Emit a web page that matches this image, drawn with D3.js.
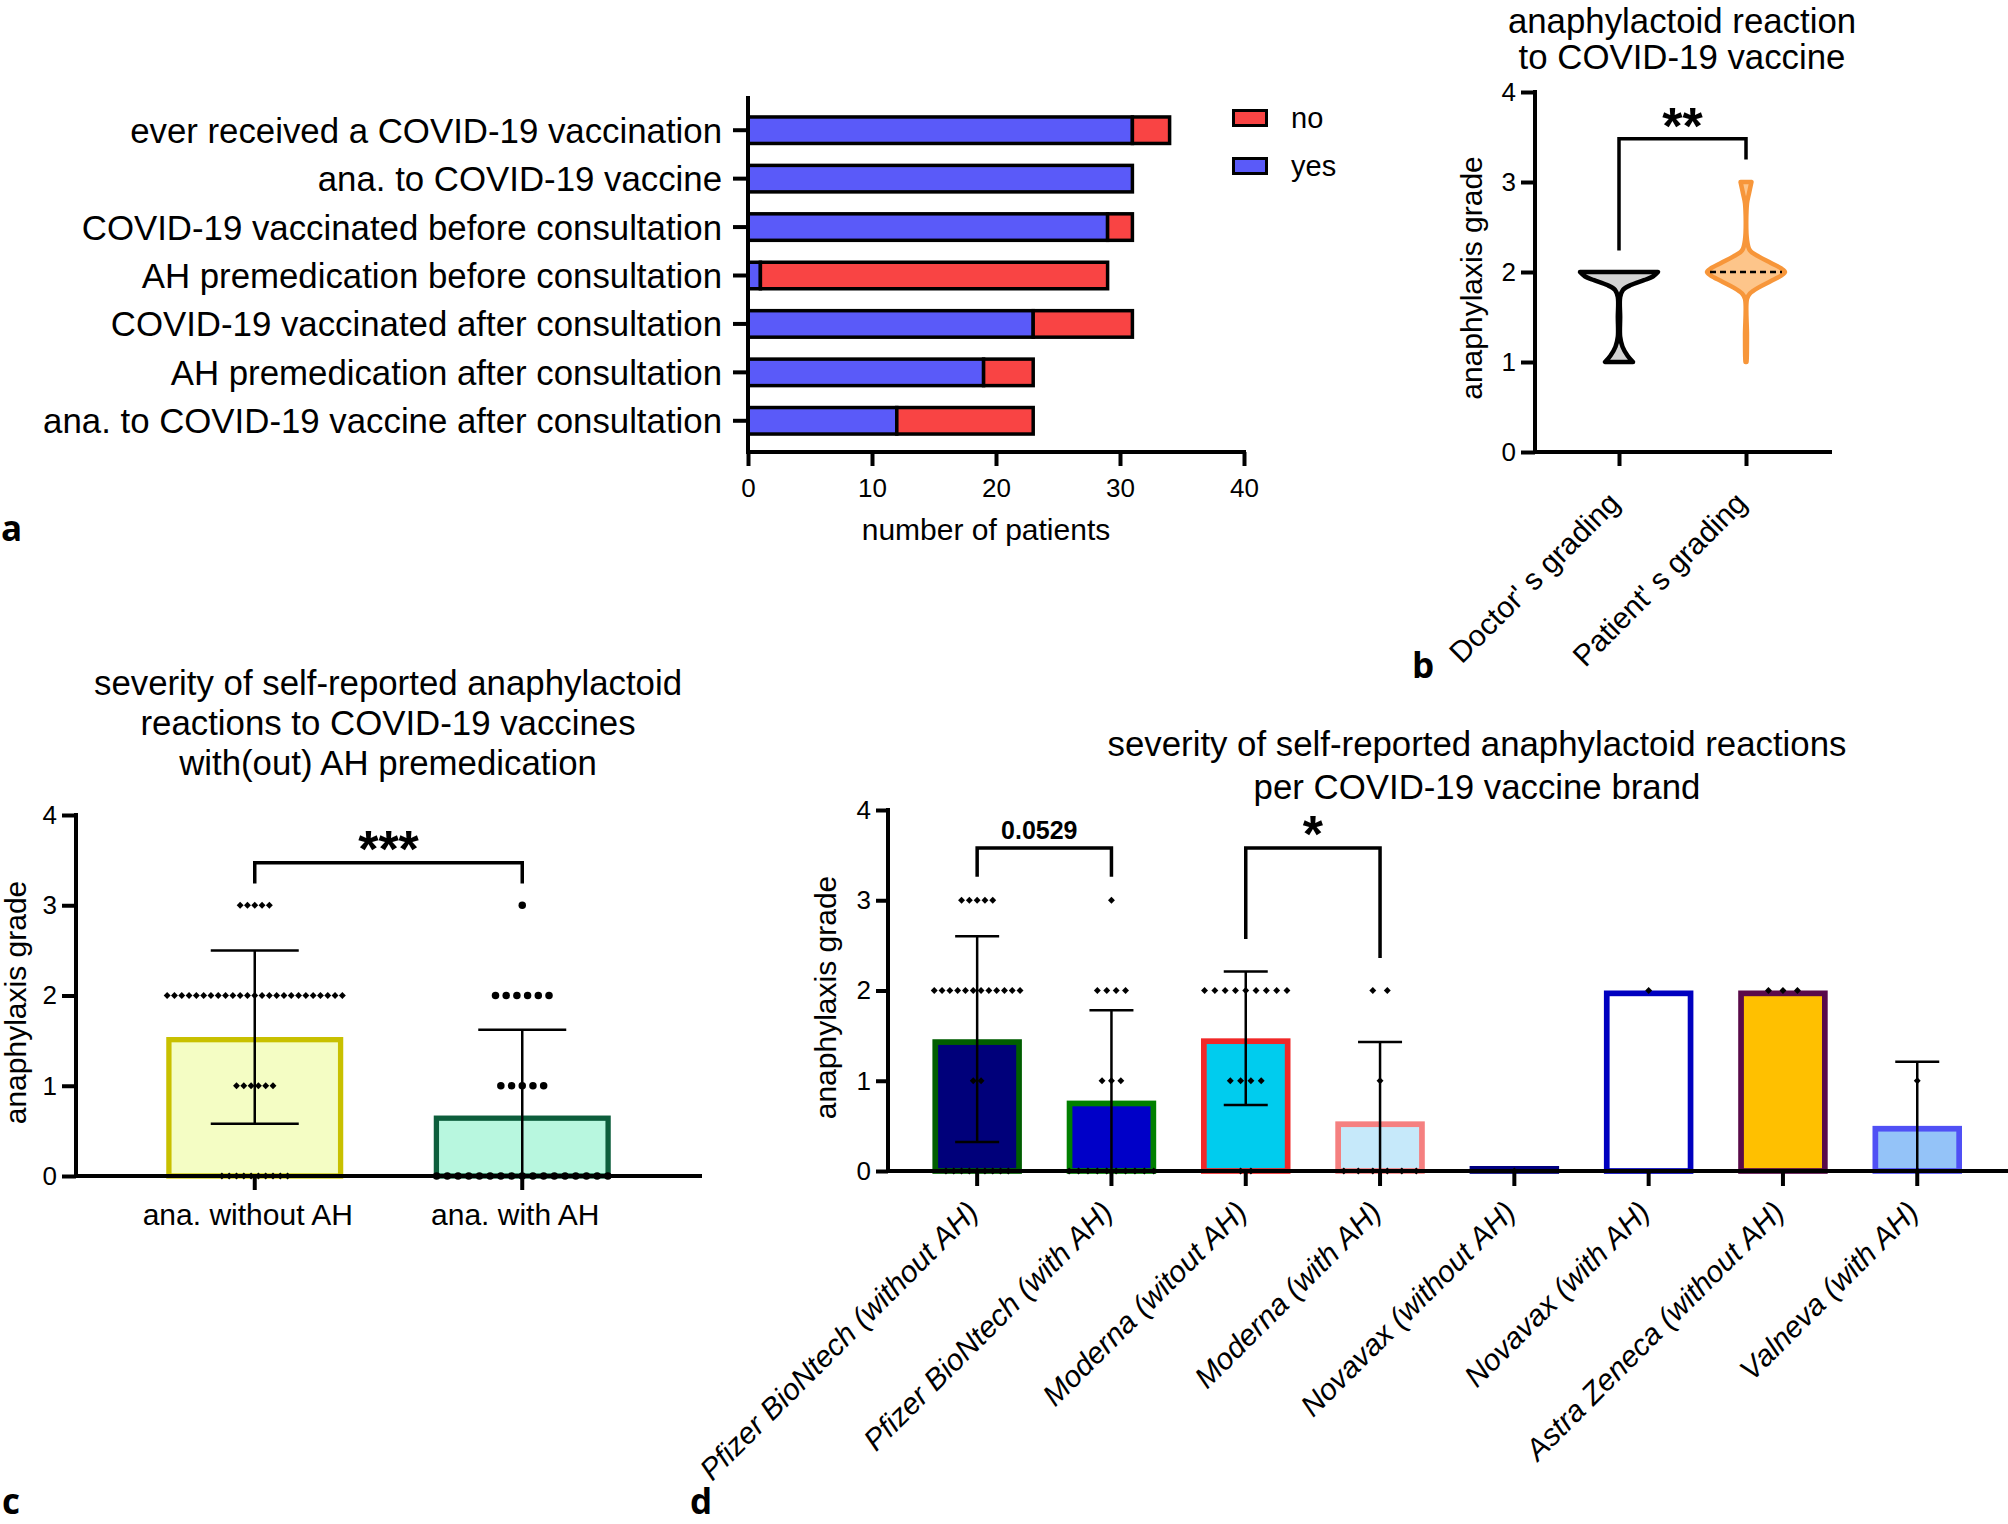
<!DOCTYPE html>
<html><head><meta charset="utf-8">
<script src="https://cdn.jsdelivr.net/npm/d3@7"></script>
<style>body{margin:0;background:#fff} svg{display:block}</style>
</head><body>
<svg id="chart" width="2008" height="1524"></svg>
<script>
// ================= DATA =================
// Panel a
const aCategories = ["ever received a COVID-19 vaccination", "ana. to COVID-19 vaccine",
  "COVID-19 vaccinated before consultation", "AH premedication before consultation",
  "COVID-19 vaccinated after consultation", "AH premedication after consultation",
  "ana. to COVID-19 vaccine after consultation"];
const aYes = [31, 31, 29, 1, 23, 19, 12];
const aNo  = [3, 0, 2, 28, 8, 4, 11];
const aTicks = [0, 10, 20, 30, 40];
const aLegend = ["no", "yes"];
const aXTitle = "number of patients";

// Panel b (violin outlines: grade vs. relative density)
const bTitle = ["anaphylactoid reaction", "to COVID-19 vaccine"];
const bCategories = ["Doctor' s grading", "Patient' s grading"];
const bDoctorGrade   = [1.0, 1.07, 1.17, 1.28, 1.5, 1.72, 1.8, 1.855, 1.91, 1.95, 2.0];
const bDoctorDensity = [0.36, 0.22, 0.09, 0.03, 0.03, 0.03, 0.1, 0.3, 0.64, 0.87, 1.0];
const bPatientGrade   = [1.0, 1.05, 1.3, 1.7, 1.76, 1.83, 1.9, 1.96, 2.0, 2.04, 2.1, 2.17, 2.24, 2.36, 2.76, 2.87, 3.0];
const bPatientDensity = [0.013, 0.02, 0.025, 0.025, 0.1, 0.33, 0.64, 0.9, 1.0, 0.9, 0.64, 0.33, 0.1, 0.025, 0.025, 0.075, 0.14];
const bMedian = [2, 2];
const gradeTicks = [0, 1, 2, 3, 4];
const yTitle = "anaphylaxis grade";

// Panel c
const cTitle = ["severity of self-reported anaphylactoid", "reactions to COVID-19 vaccines", "with(out) AH premedication"];
const cCategories = ["ana. without AH", "ana. with AH"];
const cMean = [1.54, 0.67];
const cSD   = [0.96, 0.95];
const grades = [0, 1, 2, 3];
const cCounts = [[10, 6, 25, 5], [17, 5, 6, 1]];   // patients per grade 0..3

// Panel d
const dTitle = ["severity of self-reported anaphylactoid reactions", "per COVID-19 vaccine brand"];
const dCategories = ["Pfizer BioNtech (without AH)", "Pfizer BioNtech (with AH)", "Moderna (witout AH)",
  "Moderna (with AH)", "Novavax (without AH)", "Novavax (with AH)", "Astra Zeneca (without AH)", "Valneva (with AH)"];
const dMean = [1.46, 0.78, 1.47, 0.55, 0, 2, 2, 0.5];
const dSD   = [1.14, 1.0, 0.74, 0.88, 0, 0, 0, 0.71];
const dCounts = [[9, 2, 12, 5], [10, 3, 4, 1], [2, 4, 9, 0], [6, 1, 2, 0],
  [1, 0, 0, 0], [0, 0, 1, 0], [0, 0, 3, 0], [1, 1, 0, 0]];

// Significance brackets
const bBracket = {from: 0, to: 1, top: 3.48, leftEnd: 2.24, rightEnd: 3.25, label: "**"};
const cBracket = {from: 0, to: 1, top: 3.47, leftEnd: 3.24, rightEnd: 3.24, label: "***"};
const dBrackets = [
  {from: 0, to: 1, top: 3.58, leftEnd: 3.26, rightEnd: 3.26, label: "0.0529"},
  {from: 2, to: 3, top: 3.58, leftEnd: 2.57, rightEnd: 2.36, label: "*"}
];

// ================= STYLE =================
const FONT = "'Liberation Sans', Arial, Helvetica, sans-serif";
const LETTER_FONT = "'Open Sans', 'Noto Sans', sans-serif";
const AXW = 4;
const BIG = 34.8;
const aColors = {yes: "#5A5AF9", no: "#F94444"};
const cFill = ["#F4FDC4", "#B8F7DF"], cStroke = ["#C8C000", "#0D5E3C"];
const cMarker = ["diamond", "circle"], cSpacing = [7.3, 10.7];
const dFill   = ["#00007A", "#0000C8", "#00CCEE", "#C6E9FA", "#000080", "#FFFFFF", "#FFC000", "#94C3F8"];
const dStroke = ["#005E00", "#008000", "#F02828", "#F58080", "#000080", "#0000C0", "#5A0A4A", "#5050F5"];
const dSpacing = [7.8, 9.4, 10.3, 14.5, 14.5, 14.5, 14.5, 14.5];

const svg = d3.select("#chart");

function txt(g, x, y, s, size, opts = {}) {
  return g.append("text").attr("x", x).attr("y", y).text(s)
    .attr("font-family", opts.family || FONT).attr("font-size", size)
    .attr("font-weight", opts.weight || "normal").attr("font-style", opts.style || "normal")
    .attr("text-anchor", opts.anchor || "middle").attr("fill", "#000");
}
function line(g, x1, y1, x2, y2, w) {
  return g.append("line").attr("x1", x1).attr("y1", y1).attr("x2", x2).attr("y2", y2)
    .attr("stroke", "#000").attr("stroke-width", w);
}
function styleAxis(g, fs) {
  g.selectAll("path.domain").remove();
  g.selectAll(".tick line").attr("stroke", "#000").attr("stroke-width", AXW);
  g.selectAll(".tick text").attr("fill", "#000").attr("font-family", FONT).attr("font-size", fs);
}
function bracket(g, x1, x2, yScale, b, labelSize, labelOpts, labelOffset) {
  g.append("path").attr("fill", "none").attr("stroke", "#000").attr("stroke-width", 3.5)
    .attr("d", `M${x1},${yScale(b.leftEnd)}V${yScale(b.top)}H${x2}V${yScale(b.rightEnd)}`);
  txt(g, (x1 + x2) / 2 + (labelOpts.dx || 0), yScale(b.top) + labelOffset, b.label, labelSize, labelOpts);
}
function dotsFor(cx, yScale, counts, spacing, marker) {
  const pts = [];
  counts.forEach((n, gi) => {
    for (let i = 0; i < n; i++) pts.push({x: cx + (i - (n - 1) / 2) * spacing, y: yScale(grades[gi]), marker});
  });
  return pts;
}
function drawDots(g, pts) {
  const dia = d3.symbol(d3.symbolSquare, 24)();
  const cir = d3.symbol(d3.symbolCircle, 44)();
  g.selectAll(null).data(pts).join("path")
    .attr("d", p => p.marker === "circle" ? cir : dia)
    .attr("transform", p => `translate(${p.x},${p.y})` + (p.marker === "circle" ? "" : " rotate(45)"))
    .attr("fill", "#000");
}
function errorBars(g, cx, yScale, mean, sd, half) {
  if (!(sd > 0)) return;
  const up = mean + sd, lo = mean - sd;
  const yLo = lo > 0 ? yScale(lo) : yScale(0);
  line(g, cx, yLo, cx, yScale(up), 2.5);
  line(g, cx - half, yScale(up), cx + half, yScale(up), 2.5);
  if (lo > 0) line(g, cx - half, yScale(lo), cx + half, yScale(lo), 2.5);
}

// ================= PANEL A =================
(function () {
  const g = svg.append("g");
  const x = d3.scaleLinear().domain([0, 40]).range([748, 1244]);
  const y = d3.scaleBand().domain(aCategories).range([106, 445]);
  const rows = aCategories.map((c, i) => ({c, yes: aYes[i], no: aNo[i]}));
  const stack = d3.stack().keys(["yes", "no"])(rows);
  const bh = 26.5;
  g.selectAll("g.layer").data(stack).join("g").attr("fill", d => aColors[d.key])
    .selectAll("rect").data(d => d.filter(p => p[1] > p[0])).join("rect")
    .attr("x", p => x(p[0])).attr("width", p => x(p[1]) - x(p[0]))
    .attr("y", p => y(p.data.c) + y.bandwidth() / 2 - bh / 2).attr("height", bh)
    .attr("stroke", "#000").attr("stroke-width", 3.5);

  const xa = g.append("g").attr("transform", "translate(0,452)")
    .call(d3.axisBottom(x).tickValues(aTicks).tickSize(14).tickPadding(13));
  styleAxis(xa, 26);
  const ya = g.append("g").attr("transform", "translate(748,0)")
    .call(d3.axisLeft(y).tickSize(15).tickPadding(11));
  styleAxis(ya, BIG);
  ya.selectAll(".tick text").attr("dy", "0.36em");
  line(g, 748, 96, 748, 454, AXW);
  line(g, 746, 452, 1246, 452, AXW);
  txt(g, (x(0) + x(40)) / 2 - 10, 540, aXTitle, 30);

  // legend
  const legY = [118, 166];
  aLegend.forEach((k, i) => {
    g.append("rect").attr("x", 1233.5).attr("y", legY[i] - 7.5).attr("width", 33).attr("height", 15)
      .attr("fill", aColors[k]).attr("stroke", "#000").attr("stroke-width", 3);
    txt(g, 1291, legY[i] + 10, k, 29, {anchor: "start"});
  });
  txt(g, 1, 541, "a", 35, {anchor: "start", weight: "bold", family: LETTER_FONT});
})();

// ================= PANEL B =================
(function () {
  const g = svg.append("g");
  const y = d3.scaleLinear().domain([0, 4]).range([452, 92]);
  const x = d3.scalePoint().domain(bCategories).range([1619, 1746]);
  const HW = 39;
  const area = d3.area().curve(d3.curveCatmullRom);
  const shapes = [
    {c: bCategories[0], gr: bDoctorGrade, de: bDoctorDensity, fill: "#D3D3D3", stroke: "#000"},
    {c: bCategories[1], gr: bPatientGrade, de: bPatientDensity, fill: "#FDC58A", stroke: "#F7963A"}
  ];
  shapes.forEach((s, i) => {
    const cx = x(s.c);
    const pts = s.gr.map((v, j) => ({v, w: s.de[j]}));
    area.y(d => y(d.v)).x0(d => cx - d.w * HW).x1(d => cx + d.w * HW);
    g.append("path").attr("d", area(pts)).attr("fill", s.fill).attr("stroke", s.stroke)
      .attr("stroke-width", 4.5).attr("stroke-linejoin", "round");
    const mi = s.gr.indexOf(bMedian[i]);
    const mw = (mi >= 0 ? s.de[mi] : 1) * HW - 3;
    g.append("line").attr("x1", cx - mw).attr("x2", cx + mw).attr("y1", y(bMedian[i])).attr("y2", y(bMedian[i]))
      .attr("stroke", "#000").attr("stroke-width", 2.5).attr("stroke-dasharray", "6,4");
  });

  const ya = g.append("g").attr("transform", "translate(1535,0)")
    .call(d3.axisLeft(y).tickValues(gradeTicks).tickFormat(d3.format("d")).tickSize(14).tickPadding(5));
  styleAxis(ya, 26);
  const xa = g.append("g").attr("transform", "translate(0,452)")
    .call(d3.axisBottom(x).tickSize(14).tickSizeOuter(0));
  styleAxis(xa, 30);
  xa.selectAll(".tick text").attr("text-anchor", "end").attr("dy", null).attr("y", 0)
    .attr("transform", "translate(2,53) rotate(-45)");
  line(g, 1535, 90, 1535, 454, AXW);
  line(g, 1533, 452, 1832, 452, AXW);
  txt(g, 0, 0, yTitle, 30).attr("transform", `translate(1482,${(y(0) + y(4)) / 2 + 6}) rotate(-90)`);
  bTitle.forEach((t, i) => txt(g, 1682, 33 + i * 36, t, BIG));
  bracket(g, x(bCategories[bBracket.from]), x(bCategories[bBracket.to]), y, bBracket, 52, {weight: "bold"}, 5);
  txt(g, 1412, 678, "b", 35, {anchor: "start", weight: "bold", family: LETTER_FONT});
})();

// ================= PANEL C =================
(function () {
  const g = svg.append("g");
  const y = d3.scaleLinear().domain([0, 4]).range([1176, 815]);
  const x = d3.scaleBand().domain(cCategories).range([121, 656]);
  const BW = 177, SW = 5.3;
  cCategories.forEach((c, i) => {
    const cx = x(c) + x.bandwidth() / 2;
    g.append("rect").attr("x", cx - BW / 2 + SW / 2).attr("width", BW - SW)
      .attr("y", y(cMean[i]) + SW / 2).attr("height", y(0) - y(cMean[i]) - SW / 2)
      .attr("fill", cFill[i]).attr("stroke", cStroke[i]).attr("stroke-width", SW);
  });
  const ya = g.append("g").attr("transform", "translate(76,0)")
    .call(d3.axisLeft(y).tickValues(gradeTicks).tickFormat(d3.format("d")).tickSize(14).tickPadding(5));
  styleAxis(ya, 26);
  const xa = g.append("g").attr("transform", "translate(0,1176)")
    .call(d3.axisBottom(x).tickSize(14).tickPadding(14));
  styleAxis(xa, 30);
  xa.selectAll(".tick text").attr("dx", -7);
  line(g, 76, 813, 76, 1178, AXW);
  line(g, 74, 1176, 702, 1176, AXW);
  cCategories.forEach((c, i) => {
    const cx = x(c) + x.bandwidth() / 2;
    errorBars(g, cx, y, cMean[i], cSD[i], 44);
  });
  let pts = [];
  cCategories.forEach((c, i) => {
    pts = pts.concat(dotsFor(x(c) + x.bandwidth() / 2, y, cCounts[i], cSpacing[i], cMarker[i]));
  });
  drawDots(g, pts);
  const x0 = x(cCategories[0]) + x.bandwidth() / 2, x1 = x(cCategories[1]) + x.bandwidth() / 2;
  bracket(g, x0, x1, y, cBracket, 52, {weight: "bold"}, 4);
  txt(g, 0, 0, yTitle, 30).attr("transform", `translate(26,${(y(0) + y(4)) / 2 + 7}) rotate(-90)`);
  cTitle.forEach((t, i) => txt(g, 388, 695 + i * 40, t, BIG));
  txt(g, 2, 1514, "c", 35, {anchor: "start", weight: "bold", family: LETTER_FONT});
})();

// ================= PANEL D =================
(function () {
  const g = svg.append("g");
  const y = d3.scaleLinear().domain([0, 4]).range([1171, 810]);
  const x = d3.scaleBand().domain(dCategories).range([910, 910 + 8 * 134.3]);
  const BW = 89.5, SW = 5.7;
  const cxOf = c => x(c) + x.bandwidth() / 2;
  dCategories.forEach((c, i) => {
    const cx = cxOf(c);
    const top = Math.min(y(dMean[i]), y(0) - 5);
    g.append("rect").attr("x", cx - BW / 2 + SW / 2).attr("width", BW - SW)
      .attr("y", top + SW / 2).attr("height", Math.max(0.5, y(0) - top - SW / 2))
      .attr("fill", dFill[i]).attr("stroke", dStroke[i]).attr("stroke-width", SW);
  });
  const ya = g.append("g").attr("transform", "translate(888,0)")
    .call(d3.axisLeft(y).tickValues(gradeTicks).tickFormat(d3.format("d")).tickSize(12).tickPadding(5));
  styleAxis(ya, 26);
  const xa = g.append("g").attr("transform", "translate(0,1171)")
    .call(d3.axisBottom(x).tickSize(15).tickSizeOuter(0));
  styleAxis(xa, 30);
  xa.selectAll(".tick text").attr("text-anchor", "end").attr("dy", null).attr("y", 0)
    .attr("font-style", "italic").attr("transform", "translate(3,43) rotate(-45)");
  line(g, 888, 808, 888, 1173, AXW);
  line(g, 886, 1171, 2008, 1171, AXW);
  dCategories.forEach((c, i) => errorBars(g, cxOf(c), y, dMean[i], dSD[i], 22));
  let pts = [];
  dCategories.forEach((c, i) => { pts = pts.concat(dotsFor(cxOf(c), y, dCounts[i], dSpacing[i], "diamond")); });
  drawDots(g, pts);
  dBrackets.forEach((b, i) => {
    const bx1 = cxOf(dCategories[b.from]), bx2 = cxOf(dCategories[b.to]);
    if (i === 0) bracket(g, bx1, bx2, y, b, 25, {weight: "bold", dx: -5}, -9);
    else bracket(g, bx1, bx2, y, b, 52, {weight: "bold"}, 4);
  });
  txt(g, 0, 0, yTitle, 30).attr("transform", `translate(836,${(y(0) + y(4)) / 2 + 7}) rotate(-90)`);
  dTitle.forEach((t, i) => txt(g, 1477, 756 + i * 43, t, BIG));
  txt(g, 690, 1514, "d", 35, {anchor: "start", weight: "bold", family: LETTER_FONT});
})();
</script>
</body></html>
